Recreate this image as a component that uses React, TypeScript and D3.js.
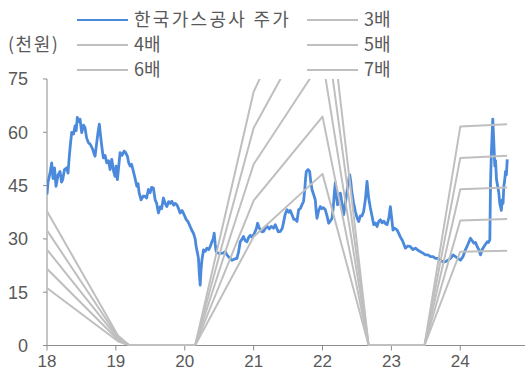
import React from 'react';
import * as d3 from 'd3';

// legend labels
const PRICE_LABEL = '한국가스공사 주가';
const MULTIPLES = [3, 4, 5, 6, 7];
const X_TICKS = [18, 19, 20, 21, 22, 23, 24];
const Y_TICKS = [0, 15, 30, 45, 60, 75];

// per-share base for the bands (year, value); negative periods drawn as 0
const BAND_BASE: [number, number][] = [
  [18.0, 5.4], [19.03, 0.4], [19.2, 0], [20.15, 0], [21.0, 10.2],
  [22.0, 16.1], [22.67, 0], [23.48, 0], [24.0, 8.8], [24.68, 8.9],
];

// share price, 천원 (year, value)
const PRICE: [number, number][] = [
  [18.0, 42.5], [18.015, 46], [18.044, 48.5], [18.068, 51.4], [18.087, 47], [18.109, 50],
  [18.131, 44.8], [18.16, 48], [18.189, 49], [18.211, 46], [18.228, 46.7], [18.254, 49.5],
  [18.286, 50], [18.305, 48.5], [18.324, 53.3], [18.342, 57], [18.359, 60], [18.385, 59.5],
  [18.407, 61.8], [18.424, 60.5], [18.44, 64.2], [18.458, 63], [18.48, 63.7], [18.504, 59.9],
  [18.531, 62], [18.552, 61.3], [18.574, 58.5], [18.6, 57.1], [18.632, 56.5], [18.664, 55.2],
  [18.683, 54], [18.698, 53.3], [18.722, 57.1], [18.741, 60], [18.76, 62.3], [18.778, 59],
  [18.795, 56.1], [18.818, 52.8], [18.843, 53.5], [18.868, 51.4], [18.894, 52], [18.916, 49.5],
  [18.94, 52.4], [18.967, 49], [18.988, 47.6], [19.003, 50.5], [19.022, 46.7], [19.039, 50],
  [19.061, 54.3], [19.09, 53.5], [19.119, 54.7], [19.141, 54.3], [19.167, 53.3], [19.185, 51.5],
  [19.206, 50.5], [19.228, 51], [19.254, 49], [19.279, 47], [19.304, 44.8], [19.323, 45.5],
  [19.337, 43], [19.366, 41], [19.395, 42], [19.424, 42], [19.446, 41.5], [19.472, 43.9],
  [19.497, 43], [19.519, 44.5], [19.545, 44.3], [19.57, 41], [19.592, 40], [19.618, 37.3],
  [19.642, 39], [19.664, 38.5], [19.69, 41.5], [19.715, 40], [19.74, 39.1], [19.766, 40.5],
  [19.788, 40], [19.813, 40.6], [19.839, 39.5], [19.86, 40], [19.885, 39.6], [19.911, 38.5],
  [19.933, 37.3], [19.962, 38], [19.991, 36.8], [20.02, 35.5], [20.049, 34.8], [20.078, 33.5],
  [20.1, 32.5], [20.126, 31.6], [20.151, 30], [20.166, 27.8], [20.185, 26], [20.199, 24.5],
  [20.212, 20], [20.224, 17], [20.235, 21], [20.249, 24], [20.272, 26.9], [20.297, 26.5],
  [20.321, 27.4], [20.347, 27], [20.369, 27.8], [20.394, 29.2], [20.413, 30], [20.427, 31.6],
  [20.442, 28.5], [20.456, 26.4], [20.485, 26], [20.515, 25.9], [20.551, 26], [20.587, 26.4],
  [20.612, 25.5], [20.635, 25], [20.66, 24.5], [20.685, 24], [20.718, 24.3], [20.757, 24.5],
  [20.783, 26.5], [20.805, 29.2], [20.827, 29.8], [20.853, 30.7], [20.878, 29.5], [20.903, 29.2],
  [20.929, 30.5], [20.951, 31], [20.98, 30.5], [21.009, 31.5], [21.023, 32.1], [21.041, 33],
  [21.057, 34.4], [21.074, 33.5], [21.096, 32.5], [21.121, 32], [21.145, 32.1], [21.169, 33],
  [21.198, 33.5], [21.227, 32.8], [21.256, 33.5], [21.289, 33], [21.314, 34], [21.336, 33],
  [21.358, 32], [21.387, 32.1], [21.416, 33], [21.438, 35], [21.459, 37], [21.484, 38.2],
  [21.51, 37.5], [21.532, 38], [21.557, 36.8], [21.583, 35.5], [21.605, 35.5], [21.629, 34.9],
  [21.653, 38.2], [21.677, 38.5], [21.699, 39.5], [21.725, 40.6], [21.743, 44], [21.754, 47],
  [21.765, 49], [21.791, 49.5], [21.813, 49], [21.83, 46], [21.847, 43.9], [21.871, 42.5],
  [21.895, 41], [21.907, 38], [21.92, 35.8], [21.944, 38], [21.968, 39.1], [21.99, 38.5],
  [22.012, 38.8], [22.041, 38.2], [22.065, 36.5], [22.089, 34.4], [22.113, 35], [22.138, 35.8],
  [22.157, 39], [22.172, 43], [22.186, 45.8], [22.203, 42], [22.218, 39.6], [22.239, 41],
  [22.259, 42.9], [22.283, 40], [22.307, 36.8], [22.331, 40], [22.356, 43.4], [22.375, 46],
  [22.394, 48.1], [22.411, 46], [22.424, 43.4], [22.452, 40], [22.477, 37.7], [22.501, 36],
  [22.525, 34.9], [22.549, 36.5], [22.574, 36.5], [22.597, 37.7], [22.622, 41], [22.646, 46.2],
  [22.67, 41.5], [22.695, 38.7], [22.72, 36.3], [22.743, 34], [22.767, 34.5], [22.791, 33.5],
  [22.816, 34.9], [22.84, 35.4], [22.864, 34.5], [22.888, 35], [22.913, 34.3], [22.937, 34],
  [22.964, 36], [22.985, 39.1], [23.006, 35.5], [23.023, 32.5], [23.05, 33], [23.083, 32.5],
  [23.108, 31.5], [23.131, 30.5], [23.156, 29.7], [23.182, 28.5], [23.203, 27.4], [23.24, 28],
  [23.276, 27.8], [23.313, 27], [23.349, 27.4], [23.385, 26.8], [23.422, 26.4], [23.458, 26],
  [23.494, 25.5], [23.531, 25.5], [23.567, 25], [23.603, 25], [23.64, 24.5], [23.676, 24.5],
  [23.712, 24], [23.749, 23.5], [23.785, 23.6], [23.821, 24], [23.858, 24.5], [23.894, 25.5],
  [23.93, 25], [23.967, 24.5], [24.003, 24], [24.039, 25], [24.076, 27], [24.112, 28.5],
  [24.148, 30.2], [24.173, 29.5], [24.198, 28.8], [24.221, 29], [24.246, 27.8], [24.269, 27],
  [24.294, 25.5], [24.318, 27], [24.343, 27.8], [24.366, 28.5], [24.391, 29.2], [24.41, 29],
  [24.429, 29.7], [24.439, 45.8], [24.453, 55], [24.472, 63.7], [24.487, 57.1], [24.501, 50.5],
  [24.512, 52], [24.526, 46.7], [24.541, 45], [24.56, 42.9], [24.573, 40], [24.584, 39.1],
  [24.596, 38], [24.61, 41], [24.621, 40], [24.632, 44.8], [24.642, 46], [24.657, 49],
  [24.669, 48], [24.682, 52.4],
];

const BLUE = '#4a89dc';
const GREY = '#bfbfbf';
const AXIS = '#8c8c8c';
const TEXT = '#595959';
const NUM_FONT = '"Liberation Sans", Arial, sans-serif';
const KR_FONT = '"Noto Sans CJK KR", "Noto Sans", sans-serif';

export default function App() {
  const width = 525;
  const height = 371;

  const x = d3.scaleLinear().domain([18, 25]).range([47, 47 + 7 * 68.88]);
  const y = d3.scaleLinear().domain([0, 75]).range([345.5, 79]);

  const line = d3.line<[number, number]>()
    .x(d => x(d[0]))
    .y(d => y(d[1]));

  const legendItems = [
    { label: PRICE_LABEL, color: BLUE, spacing: 2.3 },
    ...MULTIPLES.map(m => ({ label: `${m}배`, color: GREY, spacing: 0 })),
  ];

  return (
    <div style={{ position: 'absolute', left: 0, top: 0 }}>
      <svg width={width} height={height} style={{ display: 'block', background: '#fff' }}>
        <defs>
          <clipPath id="plot">
            <rect x={x(18)} y={y(75)} width={width - x(18)} height={y(0) - y(75)} />
          </clipPath>
        </defs>

        {/* legend */}
        {legendItems.map((item, i) => {
          const col = i % 2;
          const row = Math.floor(i / 2);
          const lx = col === 0 ? 77 : 307;
          const ly = 20 + row * 25;
          return (
            <g key={item.label}>
              <line x1={lx} x2={lx + 51} y1={ly} y2={ly} stroke={item.color} strokeWidth={2} />
              <text x={lx + 57} y={ly} dy="0.35em" fill={TEXT}
                style={{ fontFamily: KR_FONT, fontSize: 18, letterSpacing: item.spacing }}>{item.label}</text>
            </g>
          );
        })}
        <text x={8} y={45} dy="0.35em" fill={TEXT}
          style={{ fontFamily: KR_FONT, fontSize: 18, letterSpacing: 1.5 }}>(천원)</text>

        {/* axes */}
        <line x1={x(18)} x2={x(18)} y1={y(0)} y2={y(75)} stroke={AXIS} strokeWidth={1} />
        {Y_TICKS.map(t => (
          <g key={t}>
            <line x1={x(18) - 4} x2={x(18)} y1={y(t)} y2={y(t)} stroke={AXIS} />
            <text x={28} y={y(t)} dy="0.35em" textAnchor="end" fill={TEXT}
              style={{ fontFamily: NUM_FONT, fontSize: 18 }}>{t}</text>
          </g>
        ))}
        <line x1={x(18)} x2={width} y1={y(0)} y2={y(0)} stroke={AXIS} strokeWidth={1} />
        {X_TICKS.map(t => (
          <g key={t}>
            <line x1={x(t)} x2={x(t)} y1={y(0)} y2={y(0) + 5} stroke={AXIS} />
            <text x={x(t)} y={367} textAnchor="middle" fill={TEXT}
              style={{ fontFamily: NUM_FONT, fontSize: 17 }}>{t}</text>
          </g>
        ))}

        <g clipPath="url(#plot)">
          <path d={line(PRICE) || ''} fill="none" stroke={BLUE} strokeWidth={2.8}
            strokeLinejoin="round" />
          {MULTIPLES.map(m => (
            <path key={m} d={line(BAND_BASE.map(([yr, v]) => [yr, v * m] as [number, number])) || ''}
              fill="none" stroke={GREY} strokeWidth={2} strokeLinejoin="round" />
          ))}
        </g>
      </svg>
    </div>
  );
}
